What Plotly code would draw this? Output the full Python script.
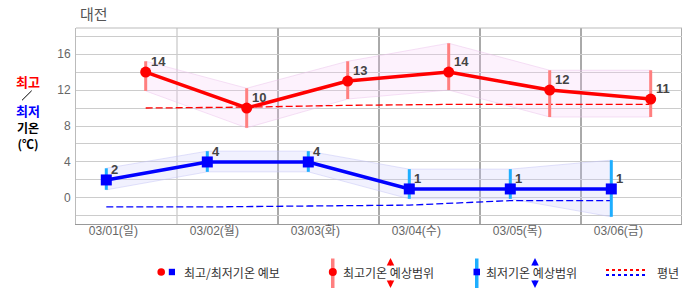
import plotly.graph_objects as go

# ---------------- data ----------------
days = ["03/01(일)", "03/02(월)", "03/03(화)", "03/04(수)", "03/05(목)", "03/06(금)"]
max_temp = [14, 10, 13, 14, 12, 11]
max_hi = [15.2, 12.2, 15.2, 17.2, 14.2, 14.2]
max_lo = [11.9, 7.8, 11.0, 12.0, 9.0, 9.0]
min_temp = [2, 4, 4, 1, 1, 1]
min_hi = [3.3, 5.2, 5.2, 3.2, 3.2, 4.2]
min_lo = [0.9, 2.9, 2.9, -0.1, -0.1, -2.1]
normal_max = [10.0, 10.1, 10.3, 10.4, 10.4, 10.4]
normal_min = [-1.0, -1.0, -0.9, -0.8, -0.3, -0.3]
y_ticks = [-2, 0, 2, 4, 6, 8, 10, 12, 14, 16, 18]

# ---------------- layout helpers ----------------
W, H = 686, 295
L, R, T, B = 76, 682, 28, 224
MIN_OFF, MAX_OFF, LABEL_OFF = 0.3, 0.69, 0.37

def px(x):
    return (x - L) / (R - L)

def py(y):
    return (B - y) / (B - T)

n = len(days)
x_min = [i + MIN_OFF for i in range(n)]
x_max = [i + MAX_OFF for i in range(n)]

RED, BLUE = "#FF0000", "#0000FF"
RED_BAR, BLUE_BAR = "#FF7F7F", "#1EAEFF"
KFONT = "Noto Sans CJK KR"
NFONT = "Liberation Sans, Noto Sans CJK KR"

fig = go.Figure()

# bands
fig.add_trace(go.Scatter(x=x_max + x_max[::-1], y=max_hi + max_lo[::-1], fill="toself",
                         fillcolor="rgba(245,200,245,0.24)", mode="lines",
                         line=dict(color="rgba(235,195,235,0.5)", width=1),
                         hoverinfo="skip", showlegend=False))
fig.add_trace(go.Scatter(x=x_min + x_min[::-1], y=min_hi + min_lo[::-1], fill="toself",
                         fillcolor="rgba(200,200,250,0.26)", mode="lines",
                         line=dict(color="rgba(195,195,245,0.5)", width=1),
                         hoverinfo="skip", showlegend=False))

# normals
fig.add_trace(go.Scatter(x=x_max, y=normal_max, mode="lines",
                         line=dict(color=RED, width=1.3, dash="7px,3px"), showlegend=False))
fig.add_trace(go.Scatter(x=x_min, y=normal_min, mode="lines",
                         line=dict(color=BLUE, width=1.3, dash="7px,3px"), showlegend=False))

# error bars (ranges)
fig.add_trace(go.Scatter(x=x_max, y=max_temp, mode="markers", marker=dict(size=1, opacity=0),
                         error_y=dict(type="data", symmetric=False,
                                      array=[h - v for h, v in zip(max_hi, max_temp)],
                                      arrayminus=[v - l for l, v in zip(max_lo, max_temp)],
                                      color=RED_BAR, thickness=3, width=0),
                         showlegend=False))
fig.add_trace(go.Scatter(x=x_min, y=min_temp, mode="markers", marker=dict(size=1, opacity=0),
                         error_y=dict(type="data", symmetric=False,
                                      array=[h - v for h, v in zip(min_hi, min_temp)],
                                      arrayminus=[v - l for l, v in zip(min_lo, min_temp)],
                                      color=BLUE_BAR, thickness=3, width=0),
                         showlegend=False))

# main lines
fig.add_trace(go.Scatter(x=x_max, y=max_temp, mode="lines+markers",
                         line=dict(color=RED, width=3.5),
                         marker=dict(symbol="circle", size=11, color=RED), showlegend=False))
fig.add_trace(go.Scatter(x=x_min, y=min_temp, mode="lines+markers",
                         line=dict(color=BLUE, width=3.5),
                         marker=dict(symbol="square", size=11, color=BLUE), showlegend=False))

annotations = []
for xs, ys in ((x_max, max_temp), (x_min, min_temp)):
    for x, v in zip(xs, ys):
        annotations.append(dict(x=x, y=v, xref="x", yref="y", text=f"<b>{v}</b>", showarrow=False,
                                xanchor="left", yanchor="bottom", xshift=3, yshift=1,
                                font=dict(family=NFONT, size=13, color="#444")))

shapes = []
# vertical day separators
for d in range(1, n + 1):
    col = "#BBBBBB" if d == 1 else "#555555"
    shapes.append(dict(type="line", xref="x", yref="paper", x0=d, x1=d, y0=0, y1=1,
                       line=dict(color=col, width=1), layer="below"))
# top border
shapes.append(dict(type="line", xref="paper", yref="paper", x0=0, x1=1, y0=1, y1=1,
                   line=dict(color="#BBBBBB", width=1), layer="below"))

# title
annotations.append(dict(x=px(78), y=1, xref="paper", yref="paper", text="대전", showarrow=False,
                        xanchor="left", yanchor="bottom", yshift=2,
                        font=dict(family=KFONT, size=15, color="#555")))

# y-axis title
for txt, col, yy, sz in (("<b>최고</b>", RED, 81.7, 13), ("<b>최저</b>", BLUE, 110, 13),
                         ("<b>기온</b><br><b>(℃)</b>", "#000", 135.5, 12)):
    annotations.append(dict(x=px(28), y=py(yy), xref="paper", yref="paper", text=txt,
                            showarrow=False, xanchor="center", yanchor="middle",
                            font=dict(family=KFONT, size=sz, color=col)))
shapes.append(dict(type="line", xref="paper", yref="paper", x0=px(22), y0=py(100.3),
                   x1=px(31.7), y1=py(90.7), line=dict(color="#000", width=1)))

# ---------------- custom legend ----------------
LY = 272
def circle(cx, cy, r, col):
    shapes.append(dict(type="circle", xref="paper", yref="paper", x0=px(cx - r), x1=px(cx + r),
                       y0=py(cy + r), y1=py(cy - r), fillcolor=col, line=dict(width=0)))

def rect(x0, x1, y0, y1, col):
    shapes.append(dict(type="rect", xref="paper", yref="paper", x0=px(x0), x1=px(x1),
                       y0=py(y1), y1=py(y0), fillcolor=col, line=dict(width=0)))

def ltext(x, txt):
    annotations.append(dict(x=px(x), y=py(LY), xref="paper", yref="paper", text=txt, showarrow=False,
                            xanchor="left", yanchor="middle", xshift=-1,
                            font=dict(family=KFONT, size=12, color="#333")))

def arrows(x, col):
    annotations.append(dict(x=px(x), y=py(258), xref="paper", yref="paper", text="", showarrow=True,
                            ax=0, ay=9, arrowhead=2, arrowsize=1, arrowwidth=1.5, arrowcolor=col))
    annotations.append(dict(x=px(x), y=py(288), xref="paper", yref="paper", text="", showarrow=True,
                            ax=0, ay=-9, arrowhead=2, arrowsize=1, arrowwidth=1.5, arrowcolor=col))

circle(161.2, LY, 3.8, RED)
rect(168.8, 175, LY - 3.2, LY + 3.2, BLUE)
ltext(182.7, "최고/최저기온 예보")

rect(331, 334.5, 258.5, 288, RED_BAR)
circle(332.8, LY, 4, RED)
ltext(342, "최고기온 예상범위")
arrows(390.5, RED)

rect(475, 478.5, 258.5, 288, BLUE_BAR)
rect(473.5, 480, LY - 3.3, LY + 3.3, BLUE)
ltext(485.3, "최저기온 예상범위")
arrows(535, BLUE)

shapes.append(dict(type="line", xref="paper", yref="paper", x0=px(606), x1=px(645),
                   y0=py(270), y1=py(270), line=dict(color=RED, width=2, dash="dot")))
shapes.append(dict(type="line", xref="paper", yref="paper", x0=px(606), x1=px(645),
                   y0=py(275), y1=py(275), line=dict(color=BLUE, width=2, dash="dot")))
ltext(656, "평년")

fig.update_layout(
    width=W, height=H,
    margin=dict(l=L, r=W - R, t=T, b=H - B),
    paper_bgcolor="white", plot_bgcolor="white",
    showlegend=False,
    xaxis=dict(range=[0, n], tickmode="array", tickvals=[i + LABEL_OFF for i in range(n)],
               ticktext=days, showgrid=False, zeroline=False, showline=True,
               linecolor="#999", linewidth=1, ticks="", ticklabelstandoff=-4,
               tickfont=dict(family=NFONT, size=12, color="#666"), fixedrange=True),
    yaxis=dict(range=[-2.9, 18.9], tickmode="array", tickvals=y_ticks,
               ticktext=[str(v) if v % 4 == 0 and v >= 0 and v <= 16 else "" for v in y_ticks],
               showgrid=True, gridcolor="#CCCCCC", gridwidth=1, zeroline=False,
               showline=True, linecolor="#BBBBBB", linewidth=1, ticks="", ticklabelstandoff=2,
               tickfont=dict(family=NFONT, size=12, color="#666"), fixedrange=True),
    shapes=shapes, annotations=annotations,
)

fig.write_html("out.html")
